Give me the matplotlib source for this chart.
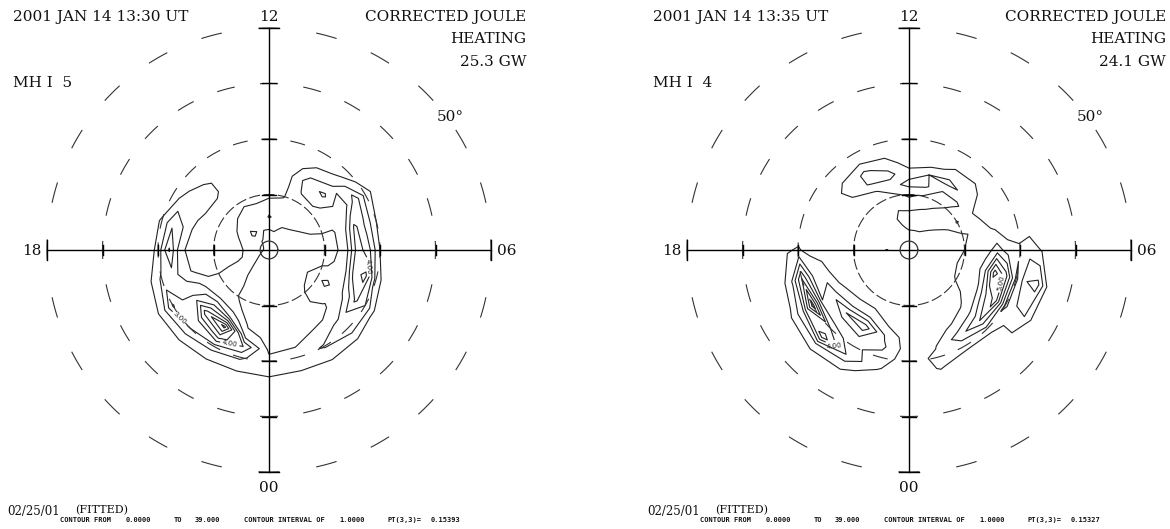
import numpy as np
import matplotlib
matplotlib.use("Agg")
import matplotlib.pyplot as plt

# corrected Joule heating, polar grid
# rows = MLT 00..23 (hours), columns = colatitude 0..26 deg (step 2)
colat = np.arange(0, 28, 2)
mlt = np.arange(24)

jh_1330 = [
    [0.8, 0.6, 0.5, 0.5, 0.5, 0.5, 0.55, 0.6, 0.7, 0.8, 1.3, 1.3, 0.6, 0.2],   # 00
    [0.8, 0.6, 0.5, 0.5, 0.5, 0.5, 0.55, 0.6, 0.75, 0.95, 1.6, 1.2, 0.4, 0.1],  # 01
    [0.8, 0.6, 0.5, 0.5, 0.5, 0.55, 0.6, 0.7, 0.9, 1.5, 2.1, 1.4, 0.4, 0.1],   # 02
    [0.8, 0.6, 0.55, 0.6, 0.8, 1.2, 1.3, 0.95, 1.1, 2.2, 2.9, 1.3, 0.3, 0.1],  # 03
    [0.8, 0.6, 0.6, 0.7, 1.0, 1.8, 2.2, 1.5, 2.3, 4.2, 3.0, 0.9, 0.2, 0.1],    # 04
    [0.8, 0.65, 0.6, 0.6, 0.7, 0.9, 1.1, 1.4, 4.6, 5.3, 1.5, 0.4, 0.1, 0.0],   # 05
    [0.8, 0.7, 0.7, 0.75, 0.8, 0.8, 0.8, 1.7, 4.6, 3.3, 1.0, 0.4, 0.1, 0.0],   # 06
    [0.8, 0.75, 0.75, 0.8, 0.9, 0.95, 0.9, 1.6, 4.3, 2.8, 1.0, 0.3, 0.1, 0.0], # 07
    [0.8, 0.75, 0.8, 0.95, 1.15, 1.3, 1.5, 1.5, 1.8, 3.6, 1.6, 0.5, 0.1, 0.0], # 08
    [0.8, 0.8, 0.85, 1.1, 1.4, 1.6, 2.3, 3.2, 2.1, 1.2, 0.5, 0.1, 0.0, 0.0],   # 09
    [0.8, 0.8, 0.9, 1.2, 1.4, 1.5, 2.1, 2.5, 1.5, 0.6, 0.2, 0.0, 0.0, 0.0],    # 10
    [0.8, 0.75, 1.1, 1.7, 1.3, 0.95, 0.8, 0.7, 0.5, 0.3, 0.1, 0.0, 0.0, 0.0],  # 11
    [0.8, 0.7, 1.05, 2.1, 1.4, 0.8, 0.5, 0.4, 0.3, 0.2, 0.1, 0.0, 0.0, 0.0],   # 12
    [0.8, 0.75, 1.05, 1.3, 1.15, 0.7, 0.5, 0.4, 0.3, 0.2, 0.1, 0.0, 0.0, 0.0], # 13
    [0.8, 0.9, 1.9, 1.5, 1.2, 0.8, 0.5, 0.6, 0.5, 0.3, 0.1, 0.0, 0.0, 0.0],    # 14
    [0.8, 1.05, 2.3, 1.5, 1.0, 0.8, 0.8, 1.15, 1.2, 0.6, 0.2, 0.0, 0.0, 0.0],  # 15
    [0.8, 1.15, 1.4, 1.1, 0.8, 0.6, 0.7, 1.2, 1.6, 1.3, 0.4, 0.1, 0.0, 0.0],   # 16
    [0.8, 1.2, 1.2, 0.9, 0.7, 0.6, 0.6, 0.8, 2.0, 2.8, 1.2, 0.3, 0.0, 0.0],    # 17
    [0.8, 1.2, 1.1, 0.8, 0.6, 0.5, 0.5, 0.6, 1.3, 4.1, 1.3, 0.4, 0.1, 0.0],    # 18
    [0.8, 1.1, 1.1, 0.9, 0.7, 0.6, 0.6, 0.8, 1.5, 2.5, 2.2, 1.0, 0.3, 0.1],    # 19
    [0.8, 1.0, 1.2, 1.2, 1.3, 1.2, 1.3, 2.5, 2.8, 3.0, 4.1, 1.6, 0.4, 0.1],    # 20
    [0.8, 0.9, 1.0, 1.1, 1.2, 1.3, 1.6, 4.0, 6.5, 4.0, 3.0, 1.5, 0.4, 0.1],    # 21
    [0.8, 0.7, 0.7, 0.8, 0.9, 0.9, 1.2, 3.0, 8.3, 5.5, 2.5, 1.3, 0.4, 0.1],    # 22
    [0.8, 0.65, 0.6, 0.6, 0.6, 0.65, 0.7, 0.8, 1.5, 4.0, 2.2, 1.2, 0.5, 0.1],  # 23
]

jh_1335 = [
    [0.5, 0.5, 0.5, 0.5, 0.5, 0.5, 0.5, 0.5, 0.4, 0.4, 0.4, 0.3, 0.1, 0.0],    # 00
    [0.5, 0.5, 0.5, 0.5, 0.5, 0.5, 0.5, 0.5, 0.6, 0.9, 1.3, 1.1, 0.3, 0.0],    # 01
    [0.5, 0.5, 0.5, 0.5, 0.5, 0.5, 0.5, 0.6, 1.2, 2.5, 1.4, 0.4, 0.1, 0.0],    # 02
    [0.5, 0.5, 0.5, 0.5, 0.5, 0.6, 0.8, 1.1, 2.2, 4.0, 1.6, 0.4, 0.3, 0.2],    # 03
    [0.5, 0.5, 0.5, 0.55, 0.7, 1.1, 1.3, 1.8, 4.0, 5.5, 0.8, 1.8, 2.0, 0.5],   # 04
    [0.5, 0.5, 0.5, 0.6, 0.8, 1.2, 1.2, 2.5, 6.5, 4.5, 0.7, 3.0, 3.3, 0.6],    # 05
    [0.5, 0.5, 0.5, 0.6, 0.8, 1.0, 1.1, 1.6, 2.5, 1.4, 1.2, 1.6, 0.9, 0.2],    # 06
    [0.5, 0.5, 0.5, 0.5, 0.6, 0.8, 1.2, 1.3, 0.8, 0.4, 0.3, 0.2, 0.1, 0.0],    # 07
    [0.5, 0.5, 0.6, 0.8, 1.1, 2.1, 1.3, 0.8, 0.4, 0.3, 0.1, 0.0, 0.0, 0.0],    # 08
    [0.5, 0.5, 0.8, 1.2, 1.3, 1.1, 0.9, 1.8, 1.4, 0.5, 0.1, 0.0, 0.0, 0.0],    # 09
    [0.5, 0.55, 1.05, 1.3, 1.1, 0.8, 0.9, 2.3, 1.3, 0.5, 0.1, 0.0, 0.0, 0.0],  # 10
    [0.5, 0.55, 1.1, 1.35, 0.9, 0.9, 2.2, 2.0, 0.6, 0.2, 0.0, 0.0, 0.0, 0.0],  # 11
    [0.5, 0.6, 1.1, 1.35, 0.7, 1.1, 2.4, 1.3, 0.5, 0.2, 0.1, 0.0, 0.0, 0.0],   # 12
    [0.5, 0.55, 0.9, 1.2, 0.9, 0.8, 1.6, 2.3, 1.5, 0.6, 0.2, 0.0, 0.0, 0.0],   # 13
    [0.5, 0.5, 0.6, 0.7, 0.6, 0.6, 0.9, 2.2, 2.2, 0.9, 0.2, 0.0, 0.0, 0.0],    # 14
    [0.5, 0.5, 0.5, 0.5, 0.5, 0.5, 0.6, 1.1, 1.3, 0.7, 0.1, 0.0, 0.0, 0.0],    # 15
    [0.5, 0.5, 0.45, 0.4, 0.4, 0.4, 0.4, 0.4, 0.4, 0.3, 0.1, 0.0, 0.0, 0.0],   # 16
    [0.5, 0.5, 0.5, 0.5, 0.4, 0.4, 0.4, 0.4, 0.4, 0.4, 0.3, 0.2, 0.0, 0.0],    # 17
    [0.5, 0.6, 1.05, 0.6, 0.4, 0.4, 0.4, 0.4, 0.5, 0.7, 1.1, 0.9, 0.3, 0.0],   # 18
    [0.5, 0.5, 0.5, 0.5, 0.4, 0.4, 0.4, 0.6, 1.5, 2.0, 5.0, 1.8, 0.4, 0.0],    # 19
    [0.5, 0.5, 0.5, 0.5, 0.4, 0.45, 0.6, 1.2, 2.6, 2.0, 7.5, 3.0, 1.2, 0.3],   # 20
    [0.5, 0.5, 0.5, 0.5, 0.45, 0.5, 0.8, 1.6, 4.0, 2.2, 4.0, 5.5, 1.6, 0.6],   # 21
    [0.5, 0.5, 0.5, 0.5, 0.5, 0.6, 0.9, 2.0, 4.6, 3.0, 2.2, 2.8, 1.4, 0.4],    # 22
    [0.5, 0.5, 0.5, 0.5, 0.5, 0.5, 0.6, 0.9, 1.8, 2.2, 1.6, 1.1, 0.4, 0.0],    # 23
]

times = ["2001 JAN 14 13:30 UT", "2001 JAN 14 13:35 UT"]
powers = ["25.3 GW", "24.1 GW"]
mhi = ["MH I  5", "MH I  4"]
pt33 = ["0.15393", "0.15327"]
levels = np.arange(1, 40)

W, H = 1170, 529
PX = 5.55          # pixels per degree of colatitude
CY = 250
centers = [269, 909]

fig = plt.figure(figsize=(W / 100, H / 100), dpi=100)
fig.patch.set_facecolor("white")


def ftext(px, py, s, **kw):
    fig.text(px / W, 1 - py / H, s, **kw)


def draw_panel(ax, field, cx, ax_left, labels):
    ax.set_xlim((ax_left - cx) / PX, (ax_left + 585 - cx) / PX)
    ax.set_ylim((CY - H) / PX, CY / PX)
    ax.axis("off")

    z = np.array(field)
    z = np.vstack([z, z[:1]])
    hrs = np.append(mlt, 24)
    T, C = np.meshgrid(np.deg2rad(hrs * 15), colat, indexing="ij")
    X = C * np.sin(T)
    Y = -C * np.cos(T)
    cs = ax.contour(X, Y, z, levels=levels, colors="#222222", linewidths=0.8)
    ax.clabel(cs, manual=labels, fmt="%.2f", fontsize=5, inline=True,
              inline_spacing=2)

    # dashed latitude circles (10 deg steps), dashes centred on each hour
    for R, dash in zip([10, 20, 30, 40], [10, 14, 17, 20]):
        half = dash / 2 / (R * PX)
        for k in range(24):
            a = np.linspace(k * np.pi / 12 - half, k * np.pi / 12 + half, 8)
            ax.plot(R * np.cos(a), R * np.sin(a), color="#333333", lw=0.8)

    # cross-hair with ticks
    ax.plot([-40, 40], [0, 0], color="black", lw=1)
    ax.plot([0, 0], [-40, 40], color="black", lw=1)
    for r in [-30, -20, -10, 10, 20, 30]:
        ax.plot([-1.35, 1.35], [r, r], color="black", lw=1)
        ax.plot([r, r], [-0.9, 0.9], color="black", lw=1)
    for r in [-40, 40]:
        ax.plot([-1.75, 1.75], [r, r], color="black", lw=1)
        ax.plot([r, r], [-1.8, 1.8], color="black", lw=1)
    a = np.linspace(0, 2 * np.pi, 60)
    ax.plot(1.6 * np.cos(a), 1.6 * np.sin(a), color="#333333", lw=0.9)


serif = dict(family="DejaVu Serif", fontsize=11, color="#111111")
mono = dict(family="DejaVu Sans Mono", fontsize=5, color="#111111",
            fontweight="bold")

label_pos = [
    [(-15.5, -11.7), (-7.0, -16.6), (16.9, -3.1)],
    [(-13.5, -17.5), (16.4, -5.9)],
]

for i, (field, cx) in enumerate(zip([jh_1330, jh_1335], centers)):
    ax_left = 585 * i
    ax = fig.add_axes([ax_left / W, 0, 585 / W, 1])
    draw_panel(ax, field, cx, ax_left, label_pos[i])

    sh = 640 * i
    ftext(13 + sh, 21, times[i], ha="left", va="baseline", **serif)
    ftext(526 + sh, 21, "CORRECTED JOULE", ha="right", va="baseline", **serif)
    ftext(526 + sh, 43, "HEATING", ha="right", va="baseline", **serif)
    ftext(526 + sh, 66, powers[i], ha="right", va="baseline", **serif)
    ftext(13 + sh, 87, mhi[i], ha="left", va="baseline", **serif)
    ftext(450 + sh, 121, "50°", ha="center", va="baseline", **serif)
    ftext(cx, 21, "12", ha="center", va="baseline", **serif)
    ftext(cx, 492, "00", ha="center", va="baseline", **serif)
    ftext(cx - 228, 255, "18", ha="right", va="baseline", **serif)
    ftext(cx + 228, 255, "06", ha="left", va="baseline", **serif)

    ftext(7 + sh, 515, "02/25/01", ha="left", va="baseline",
          family="DejaVu Serif", fontsize=8.5, color="#111111")
    ftext(75 + sh, 513, "(FITTED)", ha="left", va="baseline",
          family="DejaVu Serif", fontsize=8, color="#111111")
    for px, s in [(60, "CONTOUR FROM"), (126, "0.0000"), (174, "TO"),
                  (195, "39.000"), (244, "CONTOUR INTERVAL OF"),
                  (339, "1.0000"), (388, "PT(3,3)="), (431, pt33[i])]:
        ftext(px + sh, 522, s, ha="left", va="baseline", **mono)

fig.savefig("out.png", dpi=100, facecolor="white")
